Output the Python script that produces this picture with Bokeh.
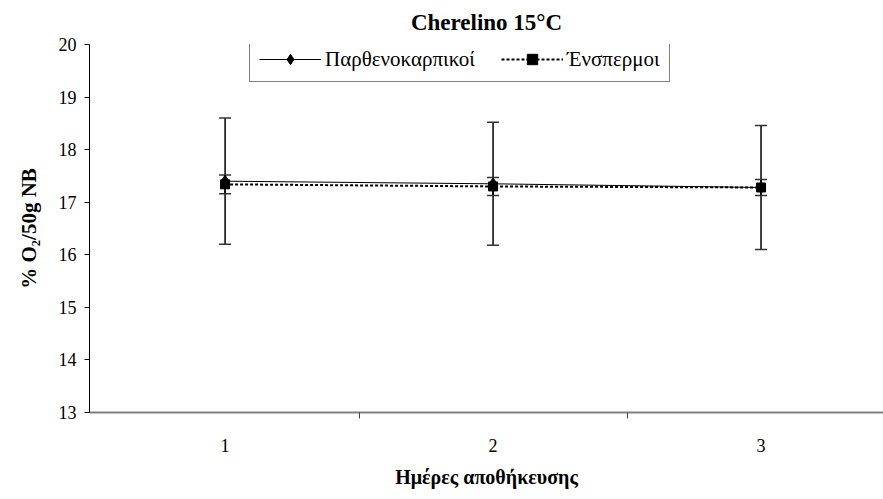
from bokeh.plotting import figure
from bokeh.models import (Range1d, FixedTicker, Whisker, TeeHead, ColumnDataSource,
                          Legend, LegendItem)
from bokeh.embed import file_html
from bokeh.resources import INLINE

# Storage days and O2 readings (mean and standard deviation)
days = [1, 2, 3]
day_labels = ["1", "2", "3"]
partheno_mean = [17.40, 17.35, 17.28]
partheno_sd = [1.20, 1.17, 1.18]
seeded_mean = [17.34, 17.30, 17.28]
seeded_sd = [0.18, 0.17, 0.15]

series_names = ["Παρθενοκαρπικοί", "Ένσπερμοι"]
y_ticks = [13, 14, 15, 16, 17, 18, 19, 20]

SERIF = "Liberation Serif"

p = figure(width=883, height=499, output_backend="svg", toolbar_location=None,
           x_range=Range1d(0.494, 3.457), y_range=Range1d(13, 20),
           min_border_left=89, min_border_right=0, min_border_top=44,
           min_border_bottom=87)
p.outline_line_color = None
p.xgrid.visible = False
p.ygrid.visible = False
p.background_fill_color = "white"
p.border_fill_color = "white"

# Title, pushed to the top of the space above the frame
p.title.text = "Cherelino 15°C"
p.title.align = "center"
p.title.vertical_align = "top"
p.title.text_font = SERIF
p.title.text_font_size = "23px"
p.title.text_font_style = "bold"
p.title.text_color = "black"
p.title.standoff = 16

# X axis: labels at the day centres, ticks between days
xa = p.xaxis[0]
xa.ticker = FixedTicker(ticks=days, minor_ticks=[1.5, 2.5])
xa.major_label_overrides = {d: s for d, s in zip(days, day_labels)}
xa.major_tick_line_color = None
xa.major_tick_out = 0
xa.major_tick_in = 0
xa.minor_tick_out = 6
xa.minor_tick_in = 0
xa.minor_tick_line_color = "#404040"
xa.axis_line_color = "#808080"
xa.axis_line_width = 2
xa.major_label_text_font = SERIF
xa.major_label_text_font_size = "18px"
xa.major_label_text_color = "black"
xa.major_label_standoff = 20
xa.axis_label = "Ημέρες αποθήκευσης"
xa.axis_label_text_font = SERIF
xa.axis_label_text_font_size = "20px"
xa.axis_label_text_font_style = "bold"
xa.axis_label_text_color = "black"
xa.axis_label_standoff = 11

# Y axis
ya = p.yaxis[0]
ya.ticker = FixedTicker(ticks=y_ticks)
ya.minor_tick_line_color = None
ya.major_tick_out = 5
ya.major_tick_in = 0
ya.axis_line_color = "black"
ya.major_tick_line_color = "black"
ya.major_label_text_font = SERIF
ya.major_label_text_font_size = "18px"
ya.major_label_text_color = "black"
ya.major_label_standoff = 8
ya.axis_label = "% O₂/50g NB"
ya.axis_label_text_font = SERIF
ya.axis_label_text_font_size = "21px"
ya.axis_label_text_font_style = "bold"
ya.axis_label_text_color = "black"
ya.axis_label_standoff = 15

src_p = ColumnDataSource(dict(
    x=days, y=partheno_mean,
    lo=[m - s for m, s in zip(partheno_mean, partheno_sd)],
    hi=[m + s for m, s in zip(partheno_mean, partheno_sd)]))
src_s = ColumnDataSource(dict(
    x=days, y=seeded_mean,
    lo=[m - s for m, s in zip(seeded_mean, seeded_sd)],
    hi=[m + s for m, s in zip(seeded_mean, seeded_sd)]))

# Error bars
for src in (src_p, src_s):
    w = Whisker(source=src, base="x", lower="lo", upper="hi",
                line_color="black", line_width=1.5,
                upper_head=TeeHead(size=12, line_color="#333333", line_width=1.5),
                lower_head=TeeHead(size=12, line_color="#333333", line_width=1.5))
    p.add_layout(w)

# Series
l1 = p.line("x", "y", source=src_p, line_color="black", line_width=1)
m1 = p.scatter("x", "y", source=src_p, marker="diamond", size=12,
               fill_color="black", line_color="black")
l2 = p.line("x", "y", source=src_s, line_color="black", line_width=2,
            line_dash="3 2")
m2 = p.scatter("x", "y", source=src_s, marker="square", size=9,
               fill_color="black", line_color="black")

legend = Legend(items=[LegendItem(label=series_names[0], renderers=[l1, m1]),
                       LegendItem(label=series_names[1], renderers=[l2, m2])],
                orientation="horizontal", location=(160, 330),
                glyph_width=62, glyph_height=26, label_standoff=4, spacing=26,
                padding=9, margin=0,
                label_text_font=SERIF, label_text_font_size="21px",
                label_text_color="black",
                border_line_color="black", border_line_width=1,
                background_fill_color="white", background_fill_alpha=1)
p.add_layout(legend, "center")

open("out.html", "w").write(file_html(p, INLINE))
